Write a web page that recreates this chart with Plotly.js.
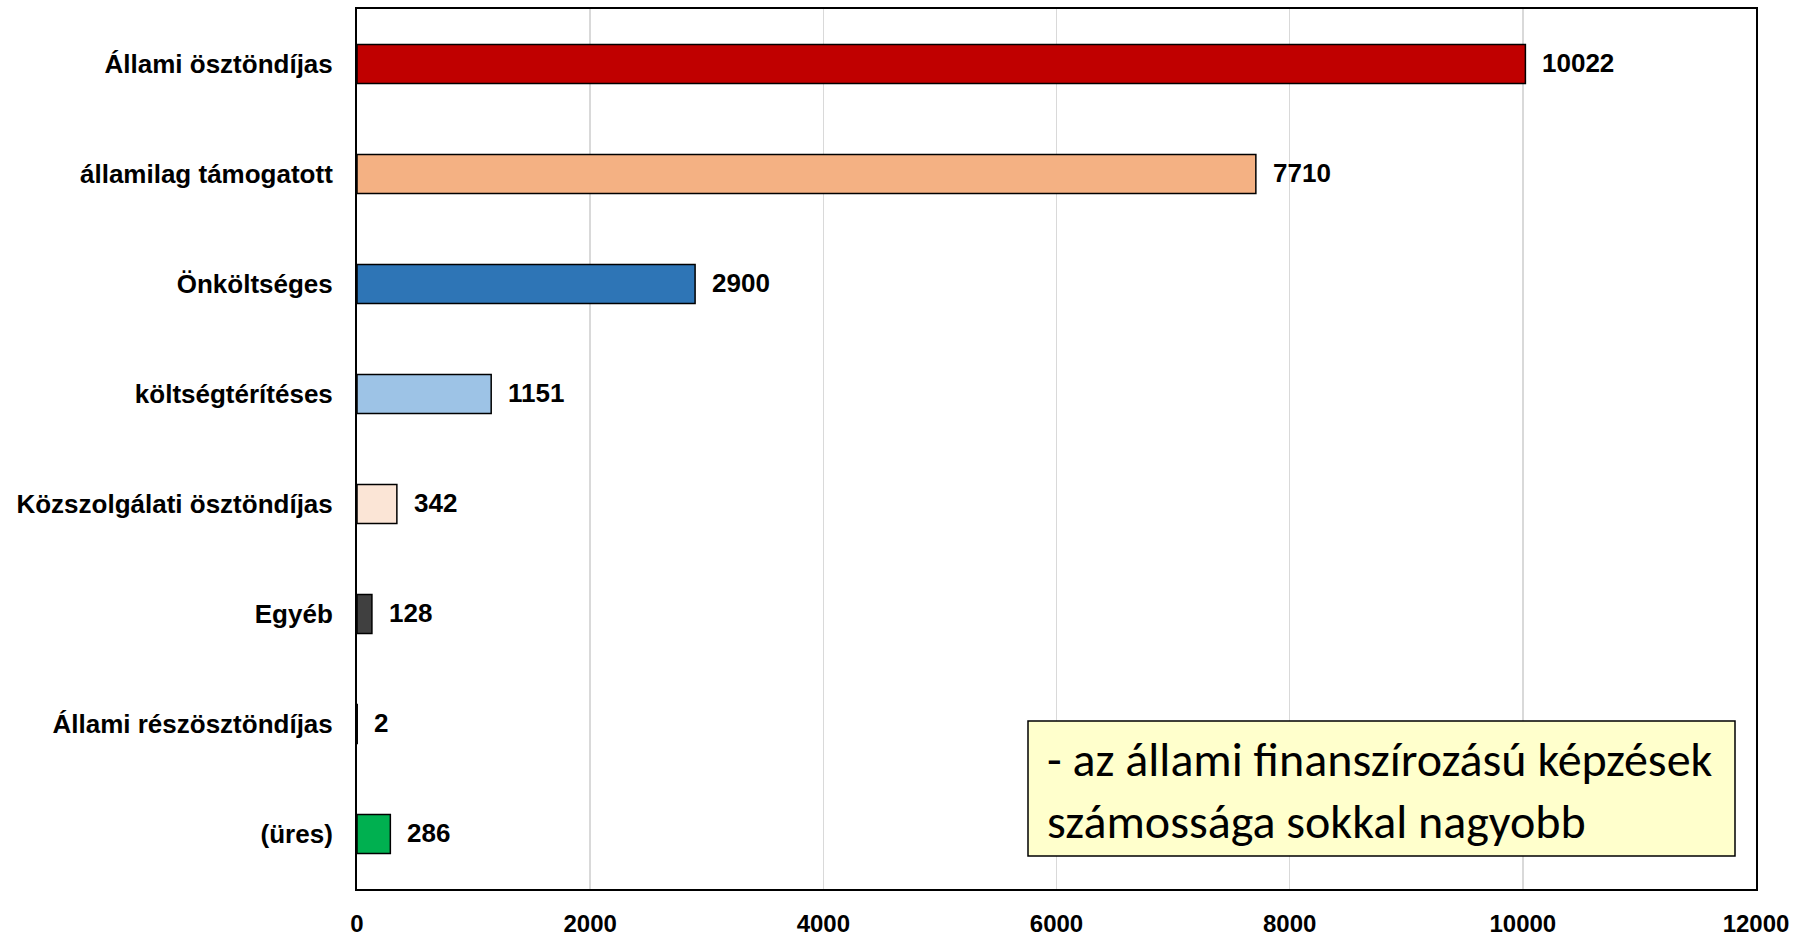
<!DOCTYPE html>
<html>
<head>
<meta charset="utf-8">
<script src="https://cdn.plot.ly/plotly-3.0.1.min.js"></script>
<style>html,body{margin:0;padding:0;background:#fff;}#chart{width:1810px;height:950px;}</style>
</head>
<body>
<div id="chart"></div>
<script>
const categories = ["Állami ösztöndíjas", "államilag támogatott", "Önköltséges", "költségtérítéses", "Közszolgálati ösztöndíjas", "Egyéb", "Állami részösztöndíjas", "(üres)"];
const values = [10022, 7710, 2900, 1151, 342, 128, 2, 286];
const barColors = ["#C00000", "#F4B183", "#2E75B6", "#9DC3E6", "#FBE5D6", "#404040", "#404040", "#00B050"];
const xTicks = [0, 2000, 4000, 6000, 8000, 10000, 12000];
const noteLines = ["- az állami finanszírozású képzések", "számossága sokkal nagyobb"];

const W = 1810, H = 950;
const L = 357, R = 1756, T = 9, B = 889;
const pw = R - L, ph = B - T;
const px = x => (x - L) / pw;
const py = y => (B - y) / ph;

const labelFont = {family: "Liberation Sans, Arial, sans-serif", size: 26, color: "#000", weight: 700};

const trace = {
  type: "bar",
  orientation: "h",
  y: categories,
  x: values,
  marker: {color: barColors, line: {color: "#000", width: 1.5}},
  hoverinfo: "skip",
  cliponaxis: false
};

const annotations = categories.map((c, i) => ({
  x: values[i], y: c, xref: "x", yref: "y",
  text: "<b>" + values[i] + "</b>",
  showarrow: false, xanchor: "left", yanchor: "middle",
  xshift: 15, yshift: 1,
  font: labelFont
}));

annotations.push({
  xref: "paper", yref: "paper",
  x: px(1045), y: py(790),
  xanchor: "left", yanchor: "middle",
  text: noteLines.join("<br>"),
  align: "left",
  showarrow: false,
  font: {family: "Carlito, Liberation Sans Narrow, Open Sans, sans-serif", size: 48, color: "#000"}
});

const layout = {
  width: W, height: H,
  margin: {l: L, r: W - R, t: T, b: H - B, pad: 0},
  paper_bgcolor: "#fff", plot_bgcolor: "#fff",
  showlegend: false,
  bargap: 0.645,
  xaxis: {
    range: [0, 12000],
    tickvals: xTicks,
    ticktext: xTicks.map(String),
    showgrid: true, gridcolor: "#D9D9D9", gridwidth: 1.5,
    zeroline: false,
    showline: true, mirror: true, linecolor: "#000", linewidth: 2,
    ticks: "", ticklabelstandoff: 12,
    tickfont: {family: "Liberation Sans, Arial, sans-serif", size: 24, color: "#000", weight: 700},
    fixedrange: true
  },
  yaxis: {
    type: "category",
    autorange: "reversed",
    showgrid: false, zeroline: false,
    showline: true, mirror: true, linecolor: "#000", linewidth: 2,
    ticks: "", ticklabelstandoff: 17,
    tickfont: labelFont,
    fixedrange: true
  },
  shapes: [{
    type: "rect", xref: "paper", yref: "paper",
    x0: px(1028), x1: px(1735), y0: py(856), y1: py(721),
    fillcolor: "#FFFFCC", line: {color: "#000", width: 1.5}, layer: "above"
  }],
  annotations: annotations
};

Plotly.newPlot("chart", [trace], layout, {displayModeBar: false, staticPlot: true});
</script>
</body>
</html>
